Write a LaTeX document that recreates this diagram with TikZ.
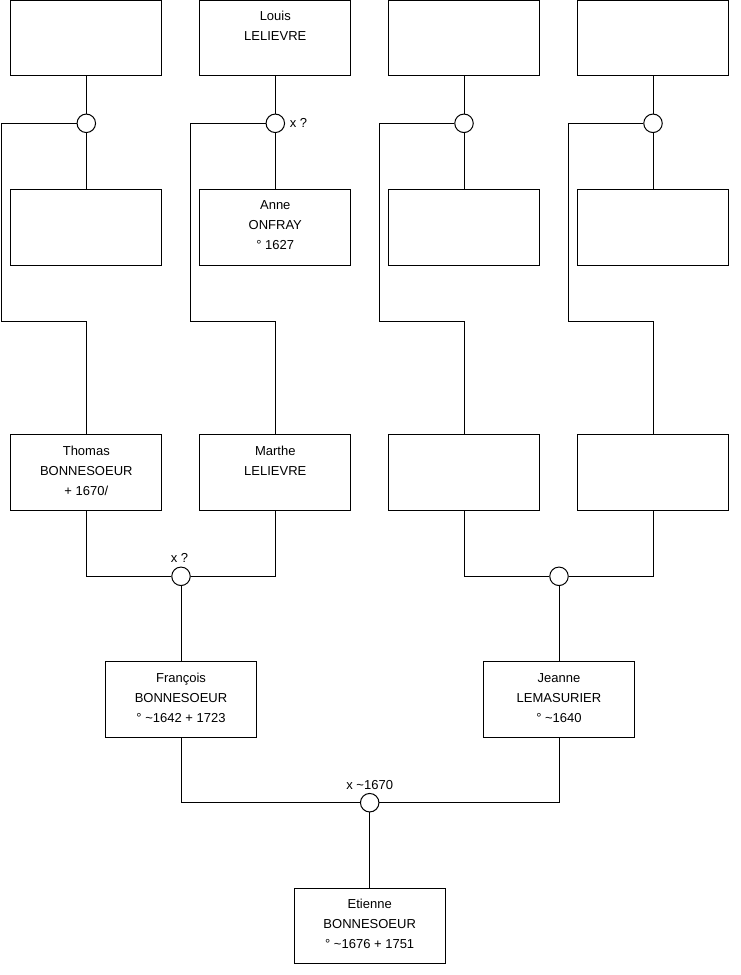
\documentclass[tikz,border=0pt]{standalone}
\usepackage{fontspec}
\setmainfont{Liberation Sans}
\begin{document}
\begin{tikzpicture}[x=1pt,y=-1pt,line width=1pt,
  person/.style={draw, fill=white, minimum width=151pt, minimum height=75.5pt, inner sep=0pt},
  ptext/.style={anchor=north, align=center, inner sep=0pt, font=\fontsize{13}{20}\selectfont},
  union/.style={draw, fill=white, circle, minimum size=18.5pt, inner sep=0pt},
  lbl/.style={inner sep=0pt, font=\fontsize{13}{16}\selectfont}]
\useasboundingbox (0,0) rectangle (740,975);
% row 1
\node[person] (b11) at (86.3,38.2) {};
\node[person] (b12) at (275.3,38.2) {};
\node[person] (b13) at (464,38.2) {};
\node[person] (b14) at (653,38.2) {};
\node[ptext] (t12) at (275.3,10.6) {Louis\\LELIEVRE};
% row 2
\node[person] (b21) at (86.3,227.4) {};
\node[person] (b22) at (275.3,227.4) {};
\node[person] (b23) at (464,227.4) {};
\node[person] (b24) at (653,227.4) {};
\node[ptext] (t22) at (275.3,200.3) {Anne\\ONFRAY\\° 1627};
% unions row 1
\node[union] (m1) at (86.3,123.3) {};
\node[union] (m2) at (275.3,123.3) {};
\node[union] (m3) at (464,123.3) {};
\node[union] (m4) at (653,123.3) {};
\node[lbl] (lm2) at (298.5,123.3) {x ?};
% row 3
\node[person] (b31) at (86.3,472.7) {};
\node[person] (b32) at (275.3,472.7) {};
\node[person] (b33) at (464,472.7) {};
\node[person] (b34) at (653,472.7) {};
\node[ptext] (t31) at (86.3,445.6) {Thomas\\BONNESOEUR\\+ 1670/};
\node[ptext] (t32) at (275.3,445.6) {Marthe\\LELIEVRE};
% unions row 3
\node[union] (n1) at (181,576.3) {};
\node[union] (n2) at (559,576.3) {};
\node[lbl] (ln1) at (179.5,558) {x ?};
% row 4
\node[person] (b41) at (181,699.5) {};
\node[person] (b42) at (559,699.5) {};
\node[ptext] (t41) at (181,672.9) {François\\BONNESOEUR\\° \textasciitilde1642 + 1723};
\node[ptext] (t42) at (559,672.9) {Jeanne\\LEMASURIER\\° \textasciitilde1640};
% union row 4
\node[union] (p1) at (369.7,802.7) {};
\node[lbl] (lp1) at (369.7,785) {x \textasciitilde1670};
% row 5
\node[person] (b51) at (369.7,926.2) {};
\node[ptext] (t51) at (369.7,898.9) {Etienne\\BONNESOEUR\\° \textasciitilde1676 + 1751};
% connectors top
\foreach \i in {1,2,3,4}{
  \draw (b1\i.south) -- (m\i.north);
  \draw (m\i.south) -- (b2\i.north);
}
\coordinate (k1) at (1.8,321.7);
\coordinate (k2) at (190.7,321.7);
\coordinate (k3) at (379,321.7);
\coordinate (k4) at (568.7,321.7);
\foreach \i in {1,2,3,4}{
  \draw (m\i.west) -| (k\i) -| (b3\i.north);
}
% connectors middle
\draw (b31.south) |- (n1.west);
\draw (b32.south) |- (n1.east);
\draw (b33.south) |- (n2.west);
\draw (b34.south) |- (n2.east);
\draw (n1.south) -- (b41.north);
\draw (n2.south) -- (b42.north);
% connectors bottom
\draw (b41.south) |- (p1.west);
\draw (b42.south) |- (p1.east);
\draw (p1.south) -- (b51.north);
\end{tikzpicture}
\end{document}
